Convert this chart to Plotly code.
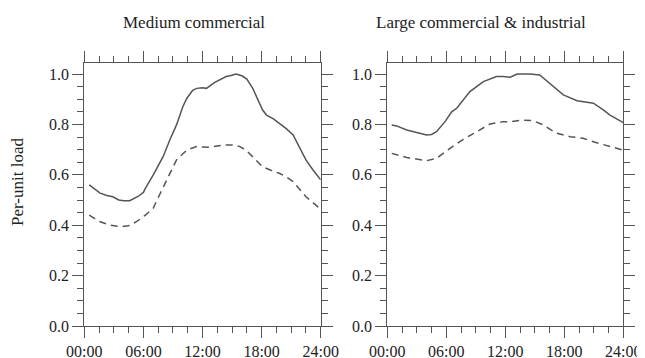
import plotly.graph_objects as go

# ---- data ----
panel_titles = ["Medium commercial", "Large commercial & industrial"]
x_tickvals = [0, 6, 12, 18, 24]
x_ticktext = ["00:00", "06:00", "12:00", "18:00", "24:00"]
y_tickvals = [0.0, 0.2, 0.4, 0.6, 0.8, 1.0]
y_ticktext = ["0.0", "0.2", "0.4", "0.6", "0.8", "1.0"]

mc_peak_h = [0.5, 1.0, 1.6, 2.3, 2.9, 3.5, 4.0, 4.6, 5.0, 5.5, 6.0, 6.2, 7.0, 8.0, 8.7, 9.36, 10.0,
             10.4, 11.0, 11.4, 12.0, 12.4, 13.2, 13.8, 14.4, 15.0, 15.4, 16.0, 16.5, 17.1, 17.6,
             18.1, 18.5, 19.2, 19.8, 20.5, 21.2, 21.8, 22.5, 23.2, 23.9, 24.0]
mc_peak_v = [0.56, 0.545, 0.527, 0.518, 0.513, 0.50, 0.497, 0.497, 0.505, 0.515, 0.53, 0.546, 0.60,
             0.672, 0.74, 0.798, 0.87, 0.903, 0.935, 0.943, 0.945, 0.943, 0.966, 0.978, 0.99, 0.995,
             1.0, 0.993, 0.98, 0.943, 0.90, 0.857, 0.837, 0.822, 0.804, 0.783, 0.758, 0.71, 0.659,
             0.62, 0.586, 0.58]

mc_avg_h = [0.5, 1.5, 2.6, 3.8, 4.5, 5.3, 6.2, 7.0, 7.3, 8.4, 9.36, 10.4, 11.4, 12.7, 14.1, 15.1,
            15.8, 16.5, 17.1, 18.1, 19.0, 19.8, 20.5, 21.2, 22.5, 23.9, 24.0]
mc_avg_v = [0.44, 0.415, 0.40, 0.394, 0.398, 0.414, 0.44, 0.467, 0.493, 0.579, 0.659, 0.698, 0.712,
            0.709, 0.718, 0.718, 0.712, 0.695, 0.672, 0.632, 0.617, 0.606, 0.592, 0.573, 0.513,
            0.467, 0.455]

lci_peak_h = [0.45, 0.95, 1.97, 3.0, 4.0, 4.5, 5.0, 5.87, 6.55, 7.06, 8.4, 9.77, 11.1, 11.8, 12.5,
              13.2, 14.5, 15.5, 16.55, 17.9, 19.3, 19.9, 20.96, 22.0, 22.65, 24.0]
lci_peak_v = [0.798, 0.794, 0.778, 0.767, 0.758, 0.76, 0.771, 0.811, 0.85, 0.864, 0.93, 0.97, 0.99,
              0.99, 0.987, 1.0, 1.0, 0.996, 0.963, 0.917, 0.894, 0.89, 0.884, 0.857, 0.837, 0.807]

lci_avg_h = [0.45, 1.97, 4.0, 5.0, 6.38, 7.73, 9.1, 10.45, 11.8, 12.5, 13.8, 14.8, 15.87, 17.2,
             18.6, 19.9, 21.3, 22.65, 24.0]
lci_avg_v = [0.685, 0.669, 0.656, 0.665, 0.705, 0.741, 0.771, 0.802, 0.811, 0.811, 0.817, 0.815,
             0.798, 0.765, 0.751, 0.745, 0.727, 0.712, 0.698]

# ---- figure ----
W, H = 637, 350          # page body has an 8px margin
OFF = 8.0
LINE = "#555555"
TEXT = "#222222"
FONT = "Liberation Serif"


def px(x):
    return (x - OFF) / W


def py(y):
    return 1 - (y - OFF) / H


fig = go.Figure()
series = [
    (mc_peak_h, mc_peak_v, "solid", "x", "y"),
    (mc_avg_h, mc_avg_v, "7px,5px", "x", "y"),
    (lci_peak_h, lci_peak_v, "solid", "x2", "y2"),
    (lci_avg_h, lci_avg_v, "7px,5px", "x2", "y2"),
]
for xs, ys, dash, xa, ya in series:
    fig.add_trace(go.Scatter(x=xs, y=ys, mode="lines", xaxis=xa, yaxis=ya,
                             line=dict(color=LINE, width=1.5, dash=dash),
                             showlegend=False, hoverinfo="skip"))

ybot, ytop = 326.0, 63.0
ydom = [py(ybot), py(ytop)]
yrange = [0, (ybot - ytop) / 252.0]
xdoms = [[px(84.3), px(320.7)], [px(387.3), px(623.3)]]

common_x = dict(range=[0, 24], tickvals=x_tickvals, ticktext=x_ticktext, showline=True,
                linecolor=LINE, linewidth=1.2, mirror="allticks", ticks="outside",
                ticklen=11, tickwidth=1.2, tickcolor=LINE, showgrid=False, zeroline=False,
                automargin=False, tickfont=dict(family=FONT, size=16, color=TEXT),
                minor=dict(dtick=1.5, tick0=0, ticks="outside", ticklen=6, tickwidth=1.2,
                           tickcolor=LINE, showgrid=False))
common_y = dict(range=yrange, tickvals=y_tickvals, ticktext=y_ticktext, showline=True,
                linecolor=LINE, linewidth=1.2, mirror="allticks", ticks="outside",
                ticklen=11, tickwidth=1.2, tickcolor=LINE, showgrid=False, zeroline=False,
                automargin=False, domain=ydom, tickfont=dict(family=FONT, size=16, color=TEXT),
                minor=dict(dtick=0.05, tick0=0, ticks="outside", ticklen=6, tickwidth=1.2,
                           tickcolor=LINE, showgrid=False))

fig.update_layout(
    width=W, height=H,
    margin=dict(l=0, r=0, t=0, b=0, autoexpand=False),
    paper_bgcolor="white", plot_bgcolor="white",
    xaxis=dict(domain=xdoms[0], anchor="y", **common_x),
    yaxis=dict(anchor="x", **common_y),
    xaxis2=dict(domain=xdoms[1], anchor="y2", **common_x),
    yaxis2=dict(anchor="x2", **common_y),
    font=dict(family=FONT, color=TEXT),
)

title_x = [194, 481]
for tx, t in zip(title_x, panel_titles):
    fig.add_annotation(text=t, x=px(tx), y=py(22), xref="paper", yref="paper",
                       xanchor="center", yanchor="middle", showarrow=False,
                       font=dict(family=FONT, size=17, color=TEXT))

fig.add_annotation(text="Per-unit load", x=px(17), y=py(182), xref="paper", yref="paper",
                   xanchor="center", yanchor="middle", textangle=-90, showarrow=False,
                   font=dict(family=FONT, size=17, color=TEXT))

fig.write_html("out.html")
